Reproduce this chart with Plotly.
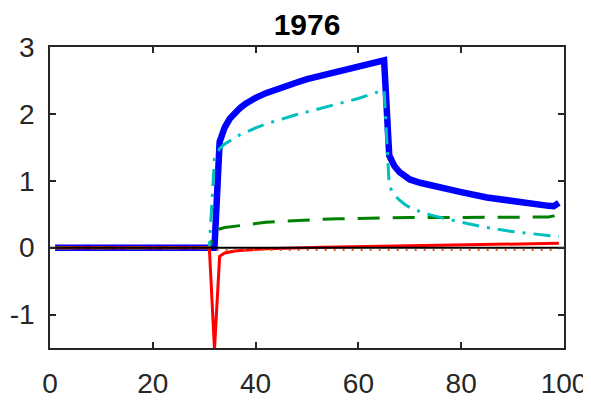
import plotly.graph_objects as go

# ---- data ----
x_all = [1, 31, 32, 33, 34, 35, 36, 37, 38, 39, 40, 42, 44, 46, 48, 50, 53, 56, 60, 65,
         66, 67, 68, 69, 70, 72, 74, 77, 80, 85, 90, 95, 97, 98, 99]

blue = [0, 0, 0.0, 1.58, 1.80, 1.93, 2.02, 2.09, 2.15, 2.20, 2.24, 2.31, 2.37, 2.42, 2.47,
        2.52, 2.58, 2.64, 2.71, 2.80,
        1.38, 1.22, 1.13, 1.07, 1.02, 0.97, 0.93, 0.88, 0.83, 0.75, 0.69, 0.645, 0.625, 0.62, 0.67]
cyan = [0, 0, 1.33, 1.48, 1.55, 1.60, 1.65, 1.69, 1.72, 1.76, 1.79, 1.85, 1.90, 1.95, 1.99,
        2.03, 2.09, 2.15, 2.23, 2.36,
        0.92, 0.79, 0.71, 0.65, 0.60, 0.54, 0.49, 0.43, 0.38, 0.30, 0.24, 0.195, 0.18, 0.17, 0.165]
green = [0, 0, 0.22, 0.28, 0.30, 0.31, 0.32, 0.333, 0.345, 0.355, 0.365, 0.38, 0.39, 0.40, 0.408,
         0.415, 0.425, 0.432, 0.44, 0.445,
         0.447, 0.448, 0.449, 0.449, 0.45, 0.45, 0.451, 0.452, 0.453, 0.455, 0.455, 0.455, 0.458, 0.475, 0.50]
red = [0, 0, -1.52, -0.13, -0.08, -0.06, -0.05, -0.042, -0.036, -0.03, -0.025, -0.018, -0.012,
       -0.006, -0.002, 0.0, 0.006, 0.011, 0.015, 0.02,
       0.021, 0.022, 0.023, 0.024, 0.025, 0.028, 0.031, 0.034, 0.037, 0.042, 0.048, 0.055, 0.058, 0.061, 0.065]
dotted = [0, 0] + [-0.035] * 33
zero_x = [0, 100]
zero_y = [0, 0]

x_ticks = [0, 20, 40, 60, 80, 100]
y_ticks = [-1, 0, 1, 2, 3]
y_tick_text = ["-1", "0", "1", "2", "3"]
title_text = "1976"

# page body has an 8px margin, so the figure is sized to fit the window
W, H = 583, 394

fig = go.Figure()
fig.add_trace(go.Scatter(x=x_all, y=blue, mode="lines",
                         line=dict(color="#0000FF", width=6.5)))
fig.add_trace(go.Scatter(x=x_all, y=green, mode="lines",
                         line=dict(color="#008000", width=3, dash="22px,13px")))
fig.add_trace(go.Scatter(x=x_all, y=cyan, mode="lines",
                         line=dict(color="#00BFBF", width=3, dash="17px,8px,3px,8px")))
fig.add_trace(go.Scatter(x=x_all, y=red, mode="lines",
                         line=dict(color="#FF0000", width=3)))
fig.add_trace(go.Scatter(x=x_all, y=dotted, mode="lines",
                         line=dict(color="#E06020", width=2, dash="2px,7px")))
fig.add_trace(go.Scatter(x=zero_x, y=zero_y, mode="lines",
                         line=dict(color="#000000", width=2)))

axis_common = dict(showline=True, linecolor="#262626", linewidth=1.5, mirror="ticks",
                   ticks="inside", ticklen=6, tickwidth=1.5, tickcolor="#262626",
                   showgrid=False, zeroline=False, automargin=False,
                   tickfont=dict(family="Liberation Sans, Arial", size=28, color="#262626"))

fig.update_layout(
    width=W, height=H,
    margin=dict(l=42, r=27, t=39, b=54),
    paper_bgcolor="white", plot_bgcolor="white",
    showlegend=False,
    title=dict(text="<b>" + title_text + "</b>", x=299 / W, xanchor="center",
               y=1 - 16 / H, yanchor="middle", yref="container", xref="container",
               font=dict(family="Liberation Sans, Arial", size=30, color="black")),
    xaxis=dict(range=[0, 100], tickvals=x_ticks, ticklabelstandoff=10, **axis_common),
    yaxis=dict(range=[-1.5, 3], tickvals=y_ticks, ticktext=y_tick_text,
               ticklabelstandoff=8, **axis_common),
)

fig.write_html("out.html")
